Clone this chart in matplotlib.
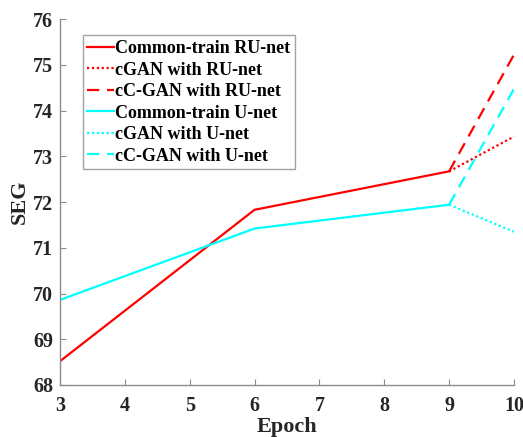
import matplotlib
matplotlib.use("Agg")
import matplotlib.pyplot as plt

# SEG score per epoch
epochs_common = [3, 6, 9]
ru_common = [68.52, 71.83, 72.67]
u_common = [69.86, 71.42, 71.94]

epochs_tail = [9, 10]
ru_cgan = [72.67, 73.43]
ru_ccgan = [72.67, 75.22]
u_cgan = [71.94, 71.35]
u_ccgan = [71.94, 74.47]

plt.rcParams['font.family'] = ['Liberation Serif', 'DejaVu Serif']
plt.rcParams['font.weight'] = 'bold'

fig = plt.figure(figsize=(5.23, 4.37), dpi=100)
ax = fig.add_axes([0.1147, 0.119, 0.868, 0.8375])

lw = 1.6
dot = (0, (1, 1.2))
dash = (0, (5.5, 3.5))
ax.plot(epochs_common, ru_common, color='red', lw=lw, label='Common-train RU-net')
ax.plot(epochs_tail, ru_cgan, color='red', lw=lw, ls=dot, label='cGAN with RU-net')
ax.plot(epochs_tail, ru_ccgan, color='red', lw=lw, ls=dash, label='cC-GAN with RU-net')
ax.plot(epochs_common, u_common, color='cyan', lw=lw, label='Common-train U-net')
ax.plot(epochs_tail, u_cgan, color='cyan', lw=lw, ls=dot, label='cGAN with U-net')
ax.plot(epochs_tail, u_ccgan, color='cyan', lw=lw, ls=dash, label='cC-GAN with U-net')

ax.set_xlim(3, 10)
ax.set_ylim(68, 76)
ax.set_xticks(range(3, 11))
ax.set_yticks(range(68, 77))

for side in ['top', 'right']:
    ax.spines[side].set_visible(False)
for side in ['left', 'bottom']:
    ax.spines[side].set_color('#8c8c8c')
    ax.spines[side].set_linewidth(1.0)
ax.tick_params(direction='in', length=4, color='#8c8c8c', labelsize=14.5,
               labelcolor='#262626')
ax.tick_params(axis='x', pad=8)
ax.tick_params(axis='y', pad=5)
for lab in ax.get_xticklabels() + ax.get_yticklabels():
    lab.set_fontweight('bold')

ax.set_xlabel('Epoch', fontsize=16, fontweight='bold', color='#262626', labelpad=1)
ax.set_ylabel('SEG', fontsize=16, fontweight='bold', color='#262626', labelpad=2)

leg = ax.legend(loc='upper left', bbox_to_anchor=(0.05, 0.955),
                prop={'weight': 'bold', 'size': 13}, frameon=True, fancybox=False,
                handlelength=1.5, handletextpad=0.05, labelspacing=0.25,
                borderpad=0.25, borderaxespad=0)
leg.get_frame().set_edgecolor('#8c8c8c')
leg.get_frame().set_linewidth(1.0)

fig.savefig('out.png', dpi=100)
